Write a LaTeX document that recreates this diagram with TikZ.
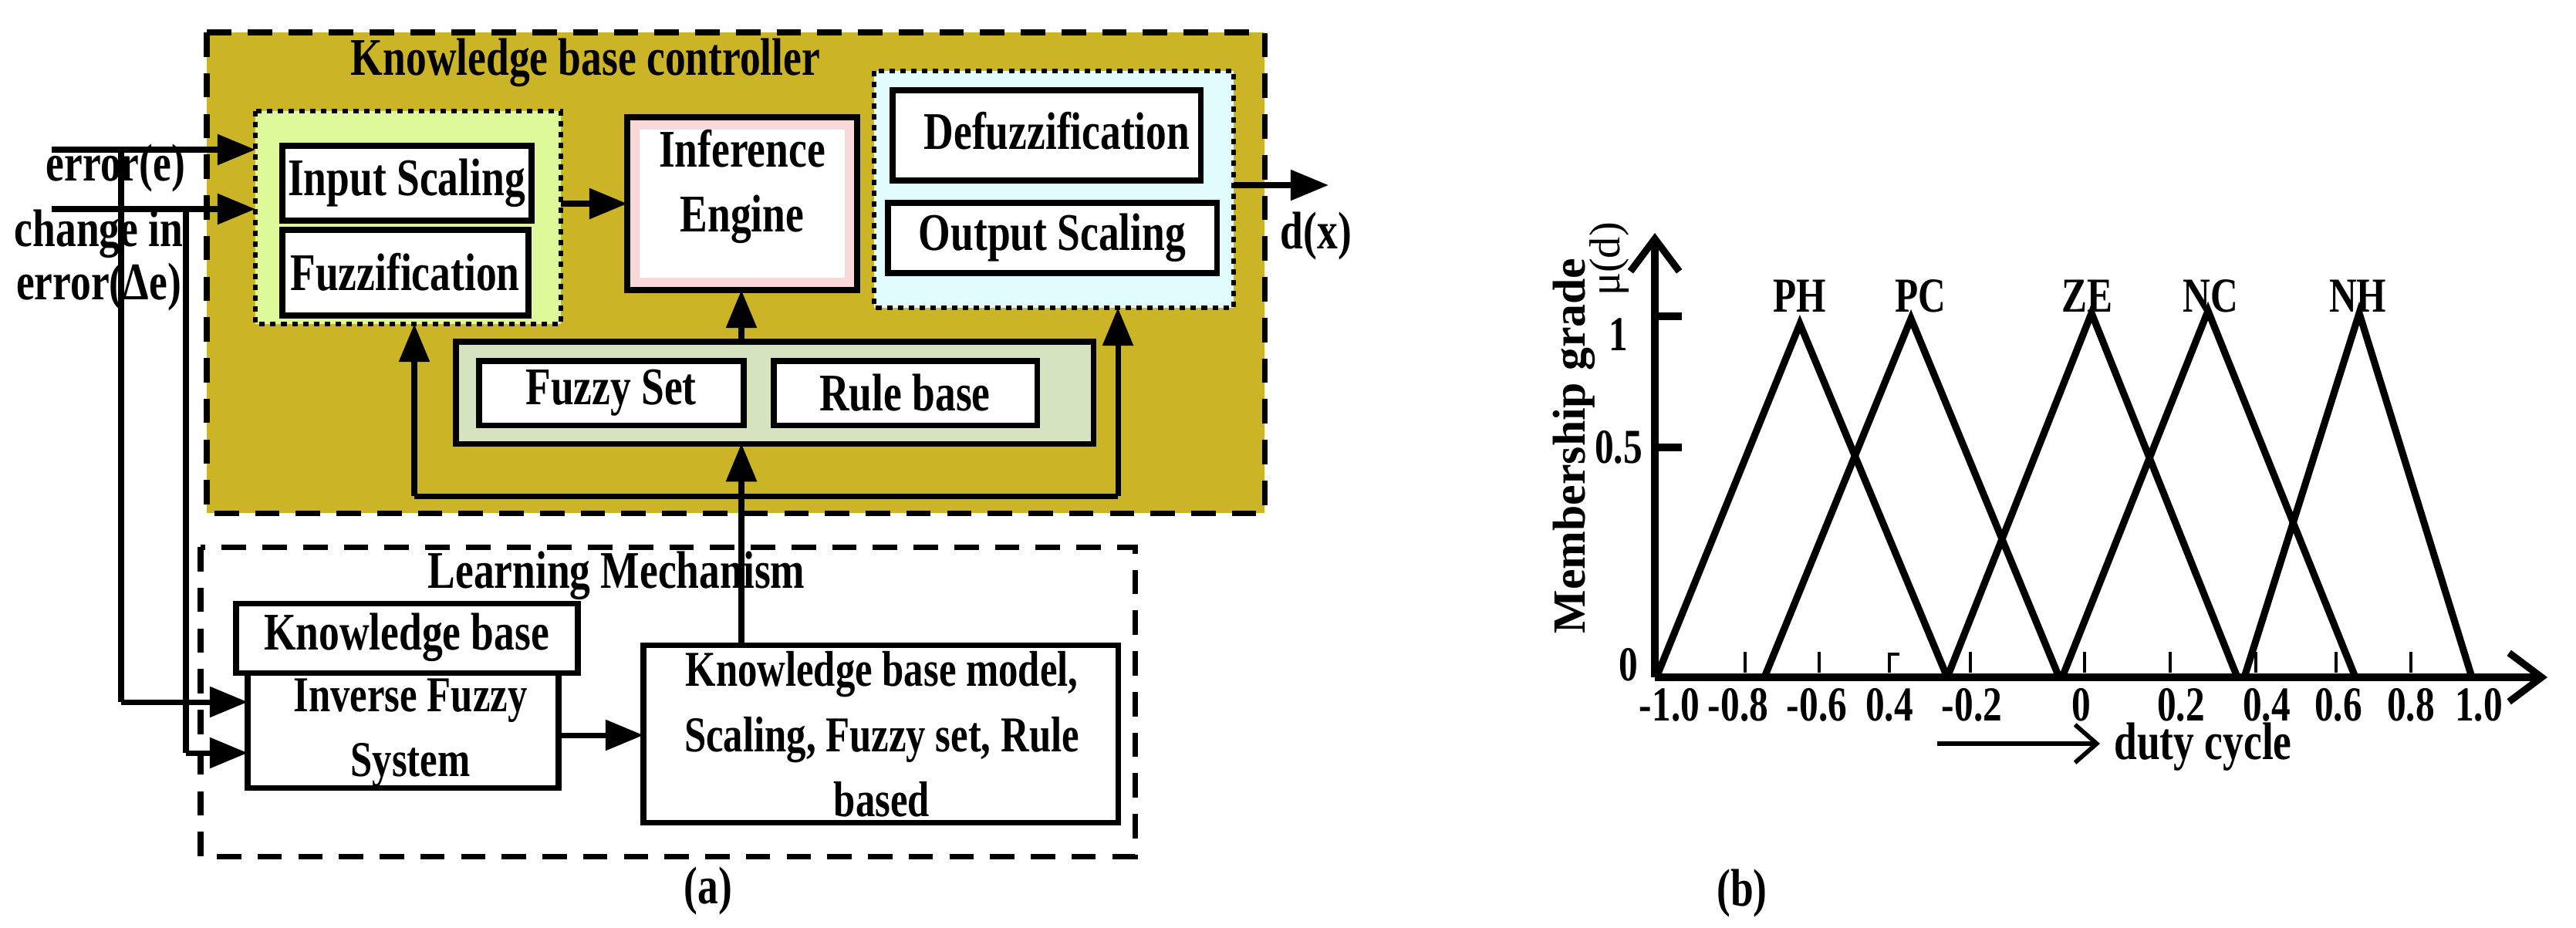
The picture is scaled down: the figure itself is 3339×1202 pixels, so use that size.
\documentclass[tikz,border=0pt]{standalone}
\usepackage{fontspec}
\setmainfont{Liberation Serif}[FakeStretch=0.78]
\newfontfamily\plainser{Liberation Serif}
\usetikzlibrary{arrows.meta}
\definecolor{olive}{RGB}{203,180,38}
\definecolor{lgreen}{RGB}{221,249,154}
\definecolor{lcyan}{RGB}{224,252,252}
\definecolor{lpink}{RGB}{248,216,216}
\definecolor{sage}{RGB}{213,227,192}
\begin{document}
\begin{tikzpicture}[x=0.01cm,y=-0.01cm,
  every node/.style={font=\fontsize{19.5}{24}\selectfont\bfseries},
  box/.style={draw,line width=2pt,fill=white},
  dbox/.style={draw,line width=2pt,dash pattern=on 9pt off 6pt},
  dotbox/.style={draw,line width=1.8pt,dash pattern=on 2pt off 2pt},
  arr/.style={line width=2pt,-{Triangle[length=14pt,width=11pt]}},
  ln/.style={line width=2pt},
  cl/.style={line width=2.6pt},
  small/.style={font=\fontsize{18.5}{24}\selectfont\bfseries},
  lab/.style={font=\fontsize{18}{19}\selectfont\bfseries},
  tick/.style={font=\fontsize{18}{18}\selectfont\bfseries}]
\useasboundingbox (0,0) rectangle (3339,1202);
% (a) knowledge base controller
\draw[dbox,fill=olive] (268,42) rectangle (1639,665);
\node at (759,81) {Knowledge base controller};
\draw[dotbox,fill=lgreen] (331,144) rectangle (727,420);
\draw[box] (366,189) rectangle (689,286);
\node (ist) at (527,237) {Input Scaling};
\draw[box] (366,298) rectangle (685,409);
\node at (525,353) {Fuzzification};
\coordinate (inR) at (727,264);
\draw[line width=2pt,fill=lpink] (813,152) rectangle (1111,376);
\fill[white] (829,168) rectangle (1095,360);
\node[align=center] (ie) at (962,242) {Inference\\Engine};
\coordinate (ieL) at (813,264);
\coordinate (ieB) at (961,376);
\draw[dotbox,fill=lcyan] (1133,92) rectangle (1599,399);
\draw[box] (1157,117) rectangle (1556,234);
\node at (1370,170) {Defuzzification};
\draw[box] (1151,263) rectangle (1577,354);
\node at (1364,308) {Output Scaling};
\coordinate (outR) at (1599,240);
\coordinate (dx) at (1722,240);
\draw[arr] (outR) -- (dx);
\node at (1706,306) {d(x)};
\draw[ln,fill=sage] (591,443) rectangle (1417,575);
\draw[box] (621,468) rectangle (964,551);
\node at (792,509) {Fuzzy Set};
\draw[box] (1003,468) rectangle (1344,551);
\node at (1173,509) {Rule base};
\coordinate (fgT) at (961,443);
\coordinate (fgB) at (961,575);
\draw[arr] (fgT) -- (ieB);
\coordinate (bus1) at (537,643);
\coordinate (bus2) at (1449,643);
\draw[ln] (bus1) -- (bus2);
\draw[arr] (bus1) -- (537,420);
\draw[arr] (bus2) -- (1449,399);
\draw[arr] (inR) -- (ieL);
% learning mechanism
\draw[dbox] (260,709) rectangle (1471,1110);
\node at (799,746) {Learning Mechanism};
\draw[box] (306,782) rectangle (749,872);
\node at (527,826) {Knowledge base};
\draw[box] (321,872) rectangle (724,1021);
\node[small,align=center] at (532,950) {Inverse Fuzzy\\System};
\draw[box] (834,836) rectangle (1449,1066);
\node[small,align=center] at (1143,952) {Knowledge base model,\\Scaling, Fuzzy set, Rule\\based};
\coordinate (kbmT) at (961,836);
\draw[arr] (kbmT) -- (fgB);
\draw[arr] (724,953) -- (834,953);
% inputs
\coordinate (e0) at (67,194);
\coordinate (c0) at (67,271);
\draw[arr] (e0) -- (331,194);
\draw[arr] (c0) -- (331,271);
\draw[ln] (157,194) -- (157,910);
\draw[arr] (157,910) -- (321,910);
\draw[ln] (241,271) -- (241,976);
\draw[arr] (241,976) -- (321,976);
\node at (150,218) {error(e)};
\node at (128,303) {change in};
\node at (128,372) {error(Δe)};
\node at (918,1155) {(a)};
% (b) chart
\coordinate (O) at (2145,878);
\draw[cl,-{Straight Barb[length=12pt,width=18pt]}] (O) -- (3302,878);
\draw[cl,-{Straight Barb[length=12pt,width=18pt]}] (O) -- (2145,302);
\draw[cl] (2145,410) -- (2180,410);
\draw[cl] (2145,580) -- (2180,580);
\foreach \x in {2262,2358,2554,2702,2813,2924,3028,3125} \draw[line width=1.2pt] (\x,845) -- (\x,872);
\draw[line width=1.2pt] (2449,872) -- (2449,848) -- (2462,848);
\node[tick] at (2098,434) {1};
\node[tick] at (2098,580) {0.5};
\node[tick] at (2111,862) {0};
\foreach \x/\t in {2164/-1.0,2253/-0.8,2355/-0.6,2449/0.4,2556/-0.2,2698/0,2827/0.2,2938/0.4,3031/0.6,3125/0.8,3213/1.0}
  \node[tick] at (\x,914) {\t};
\draw[cl,line join=miter] (2147,878) -- (2333,420) -- (2524,878);
\draw[cl,line join=miter] (2287,878) -- (2477,413) -- (2669,878);
\draw[cl,line join=miter] (2524,878) -- (2711,406) -- (2900,878);
\draw[cl,line join=miter] (2673,878) -- (2862,403) -- (3053,878);
\draw[cl,line join=miter] (2909,878) -- (3058,406) -- (3204,878);
\node[lab] at (2333,384) {PH};
\node[lab] at (2489,384) {PC};
\node[lab] at (2705,384) {ZE};
\node[lab] at (2865,384) {NC};
\node[lab] at (3056,384) {NH};
\node[rotate=90,font=\fontsize{17}{19}\selectfont\bfseries\plainser] at (2040,578) {Membership grade};
\node[rotate=90,font=\fontsize{16}{18}\selectfont\plainser] at (2086,336) {μ(d)};
\coordinate (dc1) at (2511,964);
\coordinate (dc2) at (2722,964);
\draw[line width=1.6pt,-{Straight Barb[length=8pt,width=14pt]}] (dc1) -- (dc2);
\node[anchor=west] at (2728,968) {duty cycle};
\node at (2258,1158) {(b)};
\end{tikzpicture}
\end{document}
